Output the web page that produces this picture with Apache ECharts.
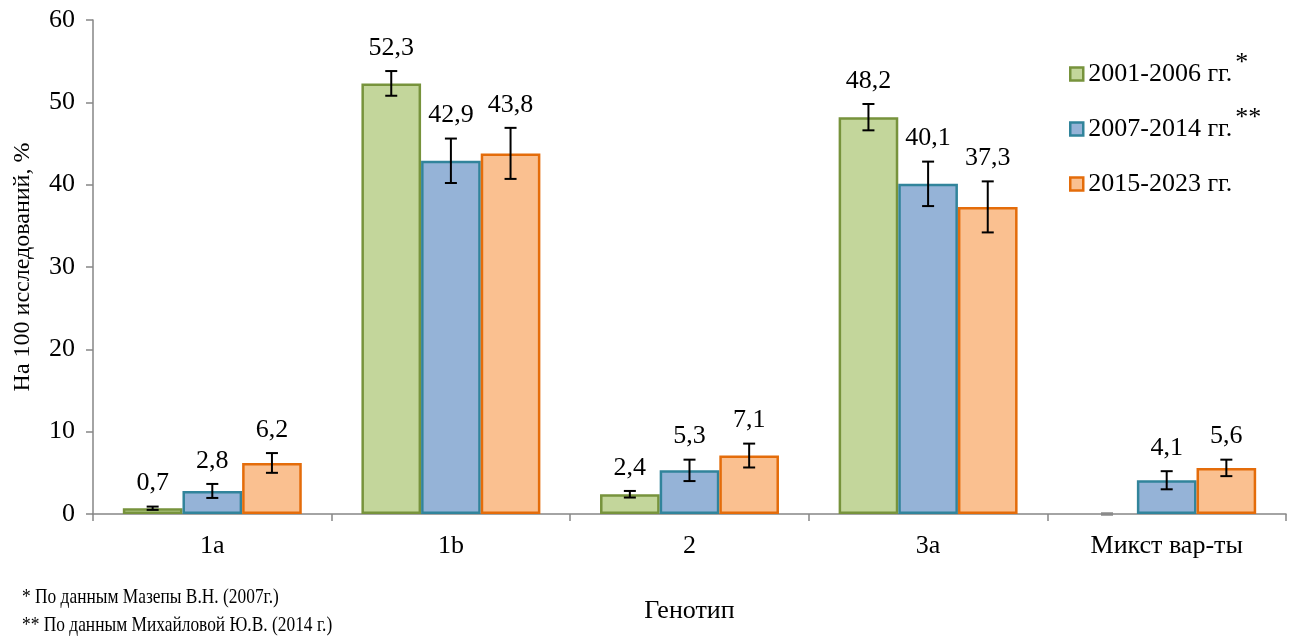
<!DOCTYPE html>
<html><head><meta charset="utf-8">
<script src="https://cdn.jsdelivr.net/npm/echarts@6/dist/echarts.min.js"></script>
<style>html,body{margin:0;padding:0;background:#fff}#c{width:1293px;height:641px}</style>
</head><body><div id="c"></div><script>
// Genotype shares (per 100 tests, %) by period, with error-bar half-widths
const genotypes = ['1a', '1b', '2', '3a', 'Микст вар-ты'];
const periods = ['2001-2006 гг.', '2007-2014 гг.', '2015-2023 гг.'];
const periodMarks = ['*', '**', ''];
const share2001 = [0.7, 52.3, 2.4, 48.2, 0];
const share2007 = [2.8, 42.9, 5.3, 40.1, 4.1];
const share2015 = [6.2, 43.8, 7.1, 37.3, 5.6];
const err2001 = [0.2, 1.5, 0.4, 1.6, 0];
const err2007 = [0.85, 2.7, 1.3, 2.7, 1.1];
const err2015 = [1.2, 3.1, 1.45, 3.1, 1.0];
const yTicks = [0, 10, 20, 30, 40, 50, 60];
const footnotes = ['* По данным Мазепы В.Н. (2007г.)', '** По данным Михайловой Ю.В. (2014 г.)'];

const FONT = '"Liberation Serif", "Times New Roman", serif';
const FS = 26;
const fills = ['#c3d69b', '#95b3d7', '#fac090'];
const borders = ['#77933c', '#31849b', '#e46c0a'];
const shares = [share2001, share2007, share2015];
const errs = [err2001, err2007, err2015];
const CAT_GAP = 0.25;

const chart = echarts.init(document.getElementById('c'), null, {renderer: 'canvas'});

function barSeries(k) {
  return {
    type: 'bar',
    name: periods[k],
    barGap: '0%',
    barCategoryGap: (CAT_GAP * 100) + '%',
    itemStyle: {color: fills[k], borderColor: borders[k], borderWidth: 2.5},
    data: shares[k].map(v => v === 0 ? {value: 0, itemStyle: {borderWidth: 0, opacity: 0}} : v),
    z: 2
  };
}

function errorSeries(k) {
  return {
    type: 'custom',
    name: 'err' + k,
    z: 5,
    encode: {x: 0, y: 1},
    data: genotypes.map((g, i) => [i, shares[k][i], errs[k][i]]),
    renderItem(params, api) {
      const ci = api.value(0), v = api.value(1), e = api.value(2);
      const band = api.size([1, 0])[0];
      const barW = band * (1 - CAT_GAP) / 3;
      const cx = api.coord([ci, 0])[0] + (k - 1) * barW;
      const yTop = api.coord([ci, v + e])[1];
      const yBot = api.coord([ci, v - e])[1];
      const cap = 6;
      const col = v === 0 ? '#8a8a8a' : '#000';
      const lw = v === 0 ? 3 : 2;
      const children = [
        {type: 'line', shape: {x1: cx, y1: yTop, x2: cx, y2: yBot}, style: {stroke: col, lineWidth: lw}},
        {type: 'line', shape: {x1: cx - cap, y1: yTop, x2: cx + cap, y2: yTop}, style: {stroke: col, lineWidth: lw}},
        {type: 'line', shape: {x1: cx - cap, y1: yBot, x2: cx + cap, y2: yBot}, style: {stroke: col, lineWidth: lw}}
      ];
      if (v !== 0) {
        children.push({
          type: 'text',
          style: {
            x: cx, y: yTop - 10,
            text: String(v).replace('.', ','),
            fill: '#000', font: FS + 'px ' + FONT,
            align: 'center', verticalAlign: 'bottom'
          }
        });
      }
      return {type: 'group', children};
    }
  };
}

// one legend block per period so the rows keep an even spacing
const legendRowTop = [45, 100, 155];
const legends = periods.map((p, k) => ({
  data: [p],
  left: 1064, top: legendRowTop[k],
  itemWidth: 13, itemHeight: 13,
  icon: 'rect',
  itemStyle: {borderWidth: 2.5},
  formatter: name => {
    const m = periodMarks[periods.indexOf(name)];
    return '{a|' + name + '}' + (m ? '{s|' + m + '}' : '');
  },
  textStyle: {
    fontFamily: FONT, fontSize: FS, color: '#000', lineHeight: 48,
    rich: {
      a: {fontFamily: FONT, fontSize: FS, color: '#000', lineHeight: 48},
      s: {fontFamily: FONT, fontSize: FS, color: '#000', lineHeight: 30, verticalAlign: 'top', padding: [0, 0, 0, 3]}
    }
  }
}));

const option = {
  animation: false,
  backgroundColor: '#fff',
  textStyle: {fontFamily: FONT},
  grid: {left: 93, right: 7, top: 20, bottom: 127},
  legend: legends,
  xAxis: {
    type: 'category',
    data: genotypes,
    name: 'Генотип',
    nameLocation: 'middle',
    nameGap: 84,
    nameTextStyle: {fontFamily: FONT, fontSize: FS, color: '#000'},
    axisLine: {lineStyle: {color: '#868686', width: 1.5}},
    axisTick: {show: true, length: 7, lineStyle: {color: '#868686', width: 1.5}},
    axisLabel: {fontFamily: FONT, fontSize: FS, color: '#000', margin: 19}
  },
  yAxis: {
    type: 'value',
    min: yTicks[0], max: yTicks[yTicks.length - 1], interval: yTicks[1] - yTicks[0],
    name: 'На 100 исследований, %',
    nameLocation: 'middle',
    nameGap: 58,
    nameTextStyle: {fontFamily: FONT, fontSize: 24, color: '#000'},
    axisLine: {show: true, lineStyle: {color: '#868686', width: 1.5}},
    axisTick: {show: true, length: 7, lineStyle: {color: '#868686', width: 1.5}},
    splitLine: {show: false},
    axisLabel: {fontFamily: FONT, fontSize: FS, color: '#000', margin: 18}
  },
  graphic: footnotes.map((t, i) => ({
    type: 'text', x: 22, y: 597 + i * 28, scaleX: 0.79,
    style: {text: t, font: '22px ' + FONT, fill: '#000', verticalAlign: 'middle'}
  })),
  series: [0, 1, 2].map(barSeries).concat([0, 1, 2].map(errorSeries))
};
chart.setOption(option);
</script></body></html>
